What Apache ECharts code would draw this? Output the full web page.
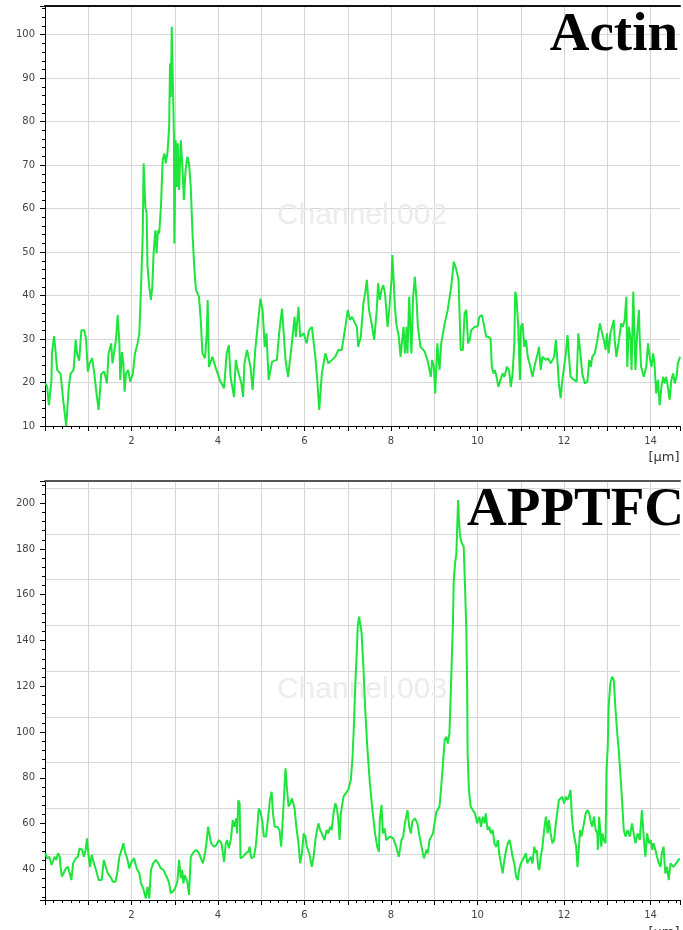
<!DOCTYPE html>
<html>
<head>
<meta charset="utf-8">
<script src="https://cdn.jsdelivr.net/npm/echarts@6/dist/echarts.min.js"></script>
<style>
  html, body { margin: 0; padding: 0; background: #ffffff; }
  #chart { width: 683px; height: 930px; }
</style>
</head>
<body>
<div id="chart"></div>
<script>
// Line profile along the scan (distance in µm) — Actin channel
const actinX = [
  0.01, 0.05, 0.09, 0.12, 0.15, 0.16, 0.21, 0.24, 0.28, 0.31, 0.36, 0.42, 0.49, 0.55, 0.59, 0.66, 0.71, 0.74, 0.79, 0.84,
  0.91, 0.95, 0.99, 1.03, 1.09, 1.14, 1.20, 1.24, 1.30, 1.37, 1.43, 1.47, 1.53, 1.56, 1.60, 1.64, 1.68, 1.72, 1.74, 1.78,
  1.81, 1.84, 1.87, 1.92, 1.97, 2.03, 2.08, 2.14, 2.18, 2.22, 2.26, 2.28, 2.30, 2.32, 2.35, 2.37, 2.41, 2.45, 2.48, 2.51,
  2.55, 2.58, 2.61, 2.64, 2.68, 2.72, 2.76, 2.79, 2.83, 2.87, 2.89, 2.91, 2.93, 2.96, 2.98, 2.99, 3.02, 3.05, 3.07, 3.10,
  3.14, 3.18, 3.21, 3.25, 3.29, 3.33, 3.37, 3.41, 3.45, 3.49, 3.56, 3.60, 3.64, 3.70, 3.74, 3.76, 3.79, 3.87, 3.94, 4.04,
  4.14, 4.20, 4.25, 4.29, 4.37, 4.41, 4.44, 4.48, 4.54, 4.58, 4.61, 4.67, 4.75, 4.80, 4.86, 4.93, 4.98, 5.03, 5.08, 5.12,
  5.17, 5.25, 5.36, 5.42, 5.48, 5.52, 5.56, 5.62, 5.69, 5.77, 5.80, 5.86, 5.90, 5.98, 6.05, 6.10, 6.17, 6.25, 6.30, 6.34,
  6.40, 6.48, 6.55, 6.71, 6.78, 6.86, 6.94, 7.00, 7.05, 7.10, 7.15, 7.21, 7.24, 7.30, 7.36, 7.40, 7.44, 7.49, 7.55, 7.61,
  7.67, 7.70, 7.74, 7.78, 7.82, 7.86, 7.92, 7.97, 8.01, 8.03, 8.06, 8.09, 8.12, 8.18, 8.22, 8.25, 8.29, 8.32, 8.36, 8.38,
  8.42, 8.46, 8.47, 8.51, 8.55, 8.59, 8.62, 8.68, 8.78, 8.85, 8.92, 8.95, 8.99, 9.02, 9.07, 9.12, 9.16, 9.24, 9.31, 9.39,
  9.45, 9.51, 9.56, 9.61, 9.66, 9.70, 9.74, 9.78, 9.82, 9.85, 9.93, 10.00, 10.04, 10.10, 10.14, 10.20, 10.25, 10.30, 10.33, 10.37,
  10.40, 10.44, 10.48, 10.53, 10.58, 10.62, 10.68, 10.73, 10.77, 10.81, 10.85, 10.87, 10.90, 10.94, 10.98, 11.00, 11.04, 11.08, 11.12, 11.16,
  11.22, 11.27, 11.33, 11.39, 11.42, 11.46, 11.50, 11.58, 11.63, 11.69, 11.77, 11.81, 11.85, 11.88, 11.92, 11.96, 12.00, 12.04, 12.08, 12.12,
  12.15, 12.23, 12.29, 12.33, 12.37, 12.42, 12.48, 12.54, 12.58, 12.62, 12.65, 12.71, 12.77, 12.83, 12.88, 12.92, 12.96, 12.99, 13.03, 13.07,
  13.11, 13.15, 13.17, 13.21, 13.27, 13.32, 13.36, 13.40, 13.44, 13.46, 13.50, 13.54, 13.56, 13.60, 13.63, 13.65, 13.69, 13.73, 13.75, 13.78,
  13.84, 13.90, 13.94, 13.98, 14.02, 14.06, 14.09, 14.13, 14.17, 14.21, 14.25, 14.29, 14.33, 14.36, 14.40, 14.44, 14.48, 14.52, 14.56, 14.60,
  14.63, 14.68
];
const actinY = [
  19.8, 19.0, 14.8, 14.8, 20.6, 26.7, 30.7, 27.5, 22.9, 22.5, 22.0, 16.0, 10.0, 19.0, 22.0, 22.9, 29.8, 26.7, 25.0, 32.0,
  32.0, 29.8, 22.5, 24.4, 25.6, 22.0, 16.7, 13.7, 22.0, 22.5, 19.8, 26.7, 29.0, 24.4, 24.8, 29.8, 35.5, 29.0, 20.6, 27.0,
  24.4, 17.9, 22.0, 22.9, 20.2, 22.0, 26.7, 29.0, 31.3, 42.0, 54.3, 70.4, 70.4, 60.4, 58.9, 46.6, 42.0, 39.0, 42.0, 49.7,
  55.0, 49.7, 55.0, 54.3, 60.4, 71.1, 72.7, 70.4, 72.7, 78.8, 93.4, 85.7, 101.8, 101.8, 77.3, 52.0, 75.7, 65.0, 75.0, 64.3,
  75.7, 68.9, 62.0, 68.9, 71.9, 70.4, 65.0, 54.3, 46.6, 41.3, 39.7, 34.4, 26.7, 25.6, 31.3, 39.0, 23.6, 25.9, 23.6, 20.6,
  18.7, 26.7, 28.6, 21.3, 16.7, 25.2, 23.6, 22.0, 19.8, 16.7, 24.4, 27.5, 23.6, 18.3, 27.5, 34.4, 39.3, 36.7, 28.2, 31.3,
  20.6, 24.8, 25.2, 32.0, 37.0, 36.7, 25.2, 21.3, 27.5, 35.1, 30.5, 37.4, 30.5, 31.3, 29.0, 32.0, 32.8, 25.9, 19.8, 13.7,
  22.0, 26.7, 24.4, 25.9, 27.5, 27.5, 32.5, 36.7, 34.4, 35.1, 34.0, 32.8, 28.2, 30.5, 38.2, 40.5, 43.6, 36.7, 33.6, 29.8,
  36.7, 42.8, 39.0, 41.3, 42.4, 40.5, 32.8, 38.2, 43.6, 49.3, 43.6, 37.4, 33.6, 30.5, 25.9, 29.0, 32.8, 26.7, 32.8, 26.7,
  39.7, 39.7, 26.7, 39.7, 44.3, 39.0, 32.8, 28.2, 27.1, 24.8, 21.3, 25.2, 23.6, 17.5, 29.0, 22.9, 29.0, 33.6, 36.7, 42.0,
  47.8, 45.9, 43.6, 27.5, 27.5, 35.9, 36.7, 29.0, 29.8, 32.0, 32.8, 32.8, 35.1, 35.5, 33.6, 30.5, 30.5, 30.1, 23.6, 22.1,
  22.8, 21.3, 19.0, 20.6, 22.1, 21.3, 23.6, 22.8, 19.0, 22.1, 29.0, 40.9, 39.7, 32.8, 20.6, 32.8, 33.6, 28.2, 29.8, 25.9,
  23.6, 21.3, 24.4, 26.7, 28.2, 22.9, 25.9, 25.2, 25.6, 24.4, 25.9, 29.8, 24.4, 19.8, 16.4, 20.6, 23.6, 26.7, 30.9, 25.2,
  21.3, 20.6, 20.2, 31.3, 27.5, 22.1, 19.8, 20.2, 25.2, 23.6, 25.9, 26.7, 29.8, 33.6, 31.3, 29.8, 27.5, 31.3, 26.7, 31.3,
  32.8, 34.4, 29.8, 25.9, 29.8, 33.6, 32.8, 34.4, 39.7, 23.6, 32.8, 29.8, 22.9, 40.9, 40.9, 22.9, 31.3, 36.7, 29.8, 23.6,
  21.3, 23.6, 29.0, 25.9, 23.6, 26.7, 24.4, 17.5, 20.6, 14.8, 19.0, 21.3, 19.8, 21.3, 19.0, 16.0, 20.6, 22.1, 19.8, 21.3,
  24.4, 25.9
];

// Line profile along the same scan — APPTFC channel
const apptfcX = [
  0.01, 0.05, 0.10, 0.15, 0.18, 0.22, 0.26, 0.30, 0.34, 0.36, 0.39, 0.43, 0.48, 0.53, 0.57, 0.61, 0.65, 0.71, 0.76, 0.80,
  0.86, 0.90, 0.94, 0.97, 0.99, 1.01, 1.04, 1.08, 1.13, 1.18, 1.24, 1.31, 1.36, 1.40, 1.45, 1.51, 1.57, 1.63, 1.67, 1.72,
  1.77, 1.81, 1.85, 1.90, 1.95, 2.00, 2.06, 2.12, 2.18, 2.22, 2.27, 2.31, 2.33, 2.37, 2.41, 2.45, 2.50, 2.56, 2.62, 2.68,
  2.74, 2.79, 2.83, 2.87, 2.91, 2.95, 2.99, 3.02, 3.06, 3.10, 3.12, 3.14, 3.17, 3.20, 3.23, 3.25, 3.29, 3.33, 3.37, 3.41,
  3.44, 3.50, 3.56, 3.60, 3.65, 3.70, 3.74, 3.77, 3.81, 3.84, 3.90, 3.96, 4.02, 4.08, 4.14, 4.18, 4.21, 4.25, 4.30, 4.34,
  4.38, 4.42, 4.44, 4.47, 4.50, 4.52, 4.58, 4.64, 4.70, 4.73, 4.77, 4.83, 4.87, 4.90, 4.94, 4.98, 5.02, 5.06, 5.11, 5.16,
  5.20, 5.24, 5.27, 5.31, 5.37, 5.42, 5.46, 5.50, 5.56, 5.59, 5.63, 5.67, 5.71, 5.77, 5.81, 5.86, 5.90, 5.94, 5.98, 6.02,
  6.05, 6.11, 6.17, 6.21, 6.26, 6.32, 6.36, 6.40, 6.46, 6.51, 6.55, 6.59, 6.63, 6.67, 6.71, 6.75, 6.78, 6.81, 6.84, 6.90,
  6.95, 7.01, 7.07, 7.11, 7.14, 7.18, 7.20, 7.23, 7.26, 7.28, 7.32, 7.36, 7.40, 7.45, 7.51, 7.57, 7.63, 7.68, 7.72, 7.74,
  7.78, 7.81, 7.85, 7.89, 7.97, 8.05, 8.12, 8.18, 8.24, 8.28, 8.32, 8.38, 8.42, 8.46, 8.49, 8.55, 8.61, 8.66, 8.72, 8.76,
  8.82, 8.85, 8.89, 8.93, 8.97, 9.01, 9.05, 9.08, 9.12, 9.16, 9.20, 9.24, 9.28, 9.31, 9.35, 9.39, 9.43, 9.45, 9.48, 9.51,
  9.55, 9.57, 9.59, 9.62, 9.65, 9.68, 9.71, 9.74, 9.76, 9.77, 9.80, 9.84, 9.89, 9.94, 9.99, 10.04, 10.08, 10.12, 10.16, 10.19,
  10.23, 10.27, 10.31, 10.35, 10.39, 10.43, 10.47, 10.50, 10.54, 10.58, 10.62, 10.66, 10.70, 10.74, 10.77, 10.81, 10.85, 10.89, 10.93, 10.96,
  11.00, 11.04, 11.08, 11.12, 11.15, 11.19, 11.23, 11.27, 11.31, 11.35, 11.37, 11.40, 11.43, 11.46, 11.50, 11.54, 11.58, 11.62, 11.65, 11.69,
  11.73, 11.77, 11.81, 11.85, 11.88, 11.92, 11.96, 12.00, 12.04, 12.08, 12.11, 12.15, 12.18, 12.21, 12.25, 12.28, 12.31, 12.35, 12.37, 12.40,
  12.43, 12.46, 12.50, 12.54, 12.58, 12.61, 12.65, 12.69, 12.73, 12.77, 12.78, 12.81, 12.83, 12.86, 12.89, 12.92, 12.96, 12.98, 13.01, 13.03,
  13.07, 13.11, 13.15, 13.19, 13.23, 13.27, 13.30, 13.34, 13.38, 13.42, 13.47, 13.52, 13.57, 13.61, 13.65, 13.70, 13.75, 13.80, 13.84, 13.88,
  13.92, 13.96, 14.00, 14.04, 14.07, 14.11, 14.15, 14.19, 14.23, 14.26, 14.30, 14.34, 14.38, 14.42, 14.46, 14.49, 14.53, 14.59, 14.67
];
const apptfcY = [
  47.0, 44.8, 45.5, 41.9, 43.3, 45.5, 44.1, 47.0, 45.5, 41.1, 36.8, 38.3, 40.4, 41.1, 38.3, 35.3, 42.6, 44.8, 45.5, 49.2,
  48.5, 45.5, 48.5, 53.5, 54.3, 45.5, 41.1, 46.3, 42.6, 39.7, 35.3, 35.3, 44.1, 43.3, 38.3, 36.8, 34.6, 34.6, 38.3, 45.5,
  48.5, 51.4, 47.7, 44.8, 40.4, 43.3, 44.8, 40.4, 38.3, 33.9, 31.7, 32.4, 27.3, 32.4, 27.3, 39.7, 42.6, 44.1, 42.6, 40.4,
  39.7, 37.5, 36.1, 33.9, 29.5, 28.8, 31.0, 32.4, 34.6, 44.1, 44.8, 36.1, 39.7, 33.9, 37.5, 38.3, 34.6, 28.8, 45.5, 46.3,
  47.7, 48.5, 47.0, 46.3, 42.6, 47.0, 52.8, 58.6, 58.6, 51.4, 49.9, 50.6, 52.8, 51.4, 43.3, 51.4, 52.8, 49.2, 53.5, 61.5,
  58.6, 62.3, 55.7, 70.3, 68.8, 44.8, 45.5, 47.0, 47.7, 49.9, 44.8, 45.5, 49.9, 55.7, 66.6, 65.2, 61.5, 54.3, 54.3, 63.0,
  70.3, 73.9, 64.5, 58.6, 58.6, 57.2, 49.9, 63.0, 84.1, 76.1, 67.4, 68.8, 71.0, 66.6, 58.6, 51.4, 42.6, 47.0, 55.7, 54.3,
  49.9, 47.0, 41.1, 45.5, 54.3, 60.1, 57.2, 55.7, 52.8, 57.2, 55.7, 58.6, 57.2, 64.5, 68.8, 66.6, 61.5, 52.8, 64.5, 71.7,
  73.2, 74.7, 79.0, 89.2, 102.3, 124.2, 131.5, 146.1, 150.4, 148.2, 143.1, 128.6, 111.1, 93.6, 77.6, 65.9, 55.7, 49.9, 47.7, 61.5,
  68.1, 55.7, 57.9, 52.8, 54.3, 53.5, 49.9, 45.5, 52.8, 54.3, 60.1, 65.9, 58.6, 55.7, 60.8, 62.3, 60.1, 54.3, 48.5, 44.8,
  48.5, 47.0, 52.8, 54.3, 55.7, 60.8, 65.2, 65.9, 67.4, 76.1, 86.3, 96.5, 97.9, 95.0, 99.4, 122.7, 147.5, 166.5, 173.7, 178.1,
  201.4, 192.7, 186.9, 183.2, 182.5, 181.0, 163.5, 144.6, 118.4, 90.7, 74.6, 67.4, 65.9, 64.5, 60.1, 63.0, 58.6, 63.0, 60.1, 64.5,
  57.2, 58.6, 55.7, 57.2, 51.4, 49.9, 52.8, 47.0, 42.6, 38.2, 44.1, 48.5, 51.4, 52.8, 49.9, 45.5, 42.6, 36.8, 35.3, 39.7,
  42.6, 44.1, 45.5, 47.0, 42.6, 44.1, 45.5, 42.6, 49.9, 47.0, 48.5, 41.1, 39.7, 45.5, 49.9, 57.2, 63.0, 55.7, 61.5, 55.7,
  51.4, 52.8, 60.1, 65.9, 70.3, 70.3, 71.7, 68.8, 71.7, 70.3, 71.7, 74.7, 63.0, 57.2, 52.8, 49.9, 41.1, 51.4, 57.2, 54.3,
  57.2, 60.1, 64.5, 65.9, 64.5, 61.5, 58.6, 63.0, 57.2, 55.7, 48.5, 63.0, 58.6, 49.9, 55.7, 52.8, 51.4, 83.4, 93.6, 111.1,
  121.3, 124.2, 122.7, 109.6, 99.4, 90.7, 81.9, 70.3, 57.2, 54.3, 57.2, 54.3, 60.1, 55.7, 51.4, 55.7, 52.8, 65.9, 54.3, 45.5,
  55.7, 51.4, 52.8, 48.5, 51.4, 48.5, 45.5, 42.6, 41.1, 47.0, 49.9, 38.2, 41.1, 35.3, 42.6, 43.3, 41.1, 42.6, 44.8
];

// Axis ranges and labels
const distanceRange = [0, 14.68];
const distanceLabels = [2, 4, 6, 8, 10, 12, 14];
const actinRange = [10, 106.6];
const apptfcRange = [26.6, 209.7];
const panelTitles = ['Actin', 'APPTFC'];
const channelNames = ['Channel.002', 'Channel.003'];
const distanceUnit = '[\u00b5m]';

const GRID_LINE = '#d6d6d6';
const LINE_GREEN = '#1de53b';
const LABEL_FONT = 'DejaVu Sans';

function zip(xs, ys) {
  return xs.map((x, i) => [x, ys[i]]);
}

function distanceAxis(gridIndex) {
  return {
    type: 'value', gridIndex: gridIndex, position: 'bottom',
    min: distanceRange[0], max: distanceRange[1], interval: 1,
    axisLine: { show: true, onZero: false, lineStyle: { color: '#000', width: 1 } },
    axisTick: { show: true, inside: false, length: 5, lineStyle: { color: '#000', width: 1 } },
    minorTick: { show: true, splitNumber: 5, length: 3, lineStyle: { color: '#000', width: 1 } },
    splitLine: { show: true, showMinLine: false, showMaxLine: false, lineStyle: { color: GRID_LINE, width: 1 } },
    axisLabel: {
      show: true, margin: 10, color: '#444', fontSize: 10, fontFamily: LABEL_FONT,
      formatter: v => distanceLabels.includes(v) ? String(v) : ''
    }
  };
}

function frameTop(gridIndex, color) {
  return {
    type: 'value', gridIndex: gridIndex, position: 'top',
    min: distanceRange[0], max: distanceRange[1],
    axisLine: { show: true, onZero: false, lineStyle: { color: color, width: 2 } },
    axisTick: { show: false }, axisLabel: { show: false }, splitLine: { show: false }
  };
}

const labelStyle = { margin: 10, color: '#444', fontSize: 10, fontFamily: LABEL_FONT };

const option = {
  backgroundColor: '#ffffff',
  animation: false,
  grid: [
    { left: 45, top: 6, width: 638, height: 420 },
    { left: 45, top: 481, width: 638, height: 419 }
  ],
  xAxis: [
    distanceAxis(0),
    frameTop(0, '#111'),
    distanceAxis(1),
    frameTop(1, '#555')
  ],
  yAxis: [
    {
      type: 'value', gridIndex: 0, position: 'left',
      min: actinRange[0], max: actinRange[1], interval: 10,
      axisLine: { show: true, onZero: false, lineStyle: { color: '#000', width: 1 } },
      axisTick: { show: true, inside: false, length: 5, lineStyle: { color: '#000' } },
      minorTick: { show: true, splitNumber: 5, length: 3, lineStyle: { color: '#000' } },
      splitLine: { show: true, showMinLine: false, showMaxLine: false, lineStyle: { color: GRID_LINE, width: 1 } },
      axisLabel: Object.assign({ showMinLabel: true, showMaxLabel: false }, labelStyle)
    },
    {
      type: 'value', gridIndex: 1, position: 'left',
      min: apptfcRange[0], max: apptfcRange[1], splitNumber: 9,
      axisLine: { show: true, onZero: false, lineStyle: { color: '#000', width: 1 } },
      axisTick: { show: true, inside: false, length: 5, lineStyle: { color: '#000' } },
      minorTick: { show: true, splitNumber: 5, length: 3, lineStyle: { color: '#000' } },
      splitLine: { show: false },
      axisLabel: Object.assign({ showMinLabel: false, showMaxLabel: false }, labelStyle)
    },
    {
      // horizontal grid of the lower panel, stepped from the axis minimum
      type: 'value', gridIndex: 1, position: 'left',
      min: apptfcRange[0], max: apptfcRange[1], interval: 20,
      axisLine: { show: false }, axisTick: { show: false }, axisLabel: { show: false },
      splitLine: { show: true, showMinLine: false, showMaxLine: false, lineStyle: { color: GRID_LINE, width: 1 } }
    }
  ],
  series: [
    {
      name: panelTitles[0], type: 'line', xAxisIndex: 0, yAxisIndex: 0,
      data: zip(actinX, actinY), symbol: 'none', clip: true, z: 5,
      lineStyle: { color: LINE_GREEN, width: 2 }
    },
    {
      name: panelTitles[1], type: 'line', xAxisIndex: 2, yAxisIndex: 1,
      data: zip(apptfcX, apptfcY), symbol: 'none', clip: true, z: 5,
      lineStyle: { color: LINE_GREEN, width: 2 }
    }
  ],
  graphic: [
    {
      type: 'text', z: 1, silent: true,
      style: { x: 362, y: 216, text: channelNames[0], fill: '#ececec',
        font: '30px "Liberation Sans"', textAlign: 'center', textVerticalAlign: 'middle' }
    },
    {
      type: 'text', z: 1, silent: true,
      style: { x: 362, y: 690, text: channelNames[1], fill: '#ececec',
        font: '30px "Liberation Sans"', textAlign: 'center', textVerticalAlign: 'middle' }
    },
    {
      type: 'text', z: 100, silent: true,
      style: { x: 678, y: 36, text: panelTitles[0], fill: '#000',
        font: 'bold 55px "Liberation Serif"', textAlign: 'right', textVerticalAlign: 'middle' }
    },
    {
      type: 'text', z: 100, silent: true,
      style: { x: 684, y: 511, text: panelTitles[1], fill: '#000',
        font: 'bold 55px "Liberation Serif"', textAlign: 'right', textVerticalAlign: 'middle' }
    },
    {
      type: 'text', z: 100, silent: true,
      style: { x: 664, y: 458, text: distanceUnit, fill: '#333',
        font: '13px "DejaVu Sans"', textAlign: 'center', textVerticalAlign: 'middle' }
    },
    {
      type: 'text', z: 100, silent: true,
      style: { x: 664, y: 933, text: distanceUnit, fill: '#333',
        font: '13px "DejaVu Sans"', textAlign: 'center', textVerticalAlign: 'middle' }
    }
  ]
};

const chart = echarts.init(document.getElementById('chart'), null, { renderer: 'canvas' });
chart.setOption(option);
</script>
</body>
</html>
